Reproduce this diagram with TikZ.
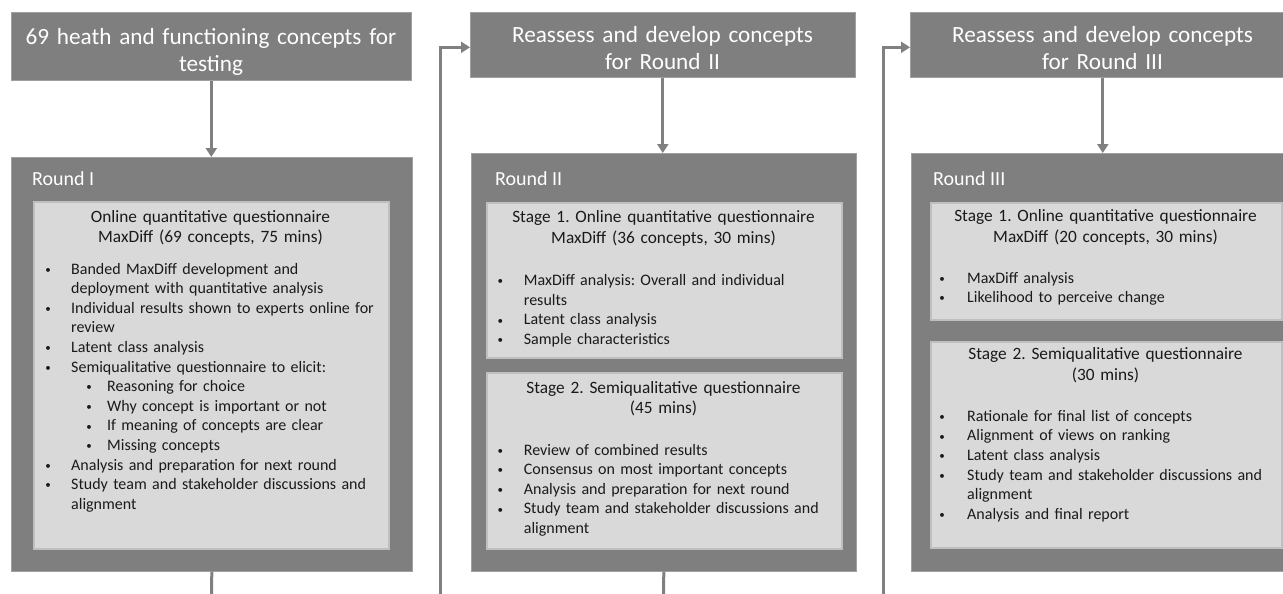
\documentclass[tikz,border=0pt]{standalone}
\usepackage{fontspec}
\setmainfont{Carlito}
\usetikzlibrary{arrows.meta}
\definecolor{boxgray}{HTML}{7F7F7F}
\definecolor{boxedge}{HTML}{A0A0A0}
\definecolor{innergray}{HTML}{D9D9D9}
\definecolor{innerborder}{HTML}{BFBFBF}
\definecolor{linegray}{HTML}{808080}
\definecolor{txt}{HTML}{1A1A1A}
\newcommand\bul[1][23.5pt]{\leavevmode\llap{\makebox[0pt][c]{\raisebox{0.8pt}{\fontsize{11}{11}\selectfont •}}\hspace{#1}}}
\begin{document}
\frenchspacing
\begin{tikzpicture}[x=1pt,y=-1pt,
  header/.style={fill=boxgray, draw=boxedge, line width=0.6pt, inner sep=0pt, anchor=north west},
  headtxt/.style={anchor=base, align=center, text width=380pt, text=white,
    font=\fontsize{23.2}{26.5}\selectfont, inner sep=0pt},
  outerbox/.style={fill=boxgray, draw=boxedge, line width=0.6pt, anchor=north west, inner sep=0pt},
  innerbox/.style={fill=innergray, draw=innerborder, line width=1.5pt, anchor=north west, inner sep=0pt},
  roundlbl/.style={anchor=base west, text=white, font=\fontsize{20}{24}\selectfont, inner sep=0pt},
  ttl/.style={anchor=base, align=center, text width=350pt, font=\fontsize{17.3}{20.8}\selectfont, text=txt, inner sep=0pt},
  lst/.style={anchor=base west, align=left, text width=345pt, font=\fontsize{16}{19.6}\selectfont, text=txt, inner sep=0pt},
  conn/.style={draw=linegray, line width=3pt},
  arr/.style={conn, -{Triangle[length=9pt,width=11pt]}}
]
\useasboundingbox (0,0) rectangle (1283,594);
\clip (0,0) rectangle (1283,594);

% headers
\node[header, minimum width=400pt, minimum height=68pt] (h1) at (11,12) {};
\node[header, minimum width=385pt, minimum height=65pt] (h2) at (470,12) {};
\node[header, minimum width=385pt, minimum height=65pt] (h3) at (910,12) {};
\node[headtxt] (h1t) at (211,45) {69 heath and functioning concepts for\\testing};
\node[headtxt] (h2t) at (662.5,43) {Reassess and develop concepts\\for Round II};
\node[headtxt] (h3t) at (1102.5,43) {Reassess and develop concepts\\for Round III};

% round boxes
\node[outerbox, minimum width=401pt, minimum height=414pt] (r1) at (11,157) {};
\node[outerbox, minimum width=385pt, minimum height=418pt] (r2) at (471,153) {};
\node[outerbox, minimum width=385pt, minimum height=418pt] (r3) at (911,153) {};

\node[roundlbl] (r1lab) at (32,185.3) {Round I};
\node[roundlbl] (r2lab) at (495,185.3) {Round II};
\node[roundlbl] (r3lab) at (933,185.3) {Round III};

% inner boxes
\node[innerbox, minimum width=355pt, minimum height=347pt] (r1in) at (33,201) {};
\node[innerbox, minimum width=355pt, minimum height=155pt] (r2s1) at (486,202) {};
\node[innerbox, minimum width=355pt, minimum height=176pt] (r2s2) at (486,372) {};
\node[innerbox, minimum width=351pt, minimum height=117pt] (r3s1) at (930,202) {};
\node[innerbox, minimum width=351pt, minimum height=206pt] (r3s2) at (930,341) {};

% titles
\node[ttl] (r1t) at (210.5,222) {Online quantitative questionnaire\\MaxDiff (69 concepts, 75 mins)};
\node[ttl] (r2t1) at (663.5,222.3) {Stage 1. Online quantitative questionnaire\\MaxDiff (36 concepts, 30 mins)};
\node[ttl] (r2t2) at (663.5,393) {Stage 2. Semiqualitative questionnaire\\(45 mins)};
\node[ttl] (r3t1) at (1105.5,221.7) {Stage 1. Online quantitative questionnaire\\MaxDiff (20 concepts, 30 mins)};
\node[ttl] (r3t2) at (1105.5,359.7) {Stage 2. Semiqualitative questionnaire\\(30 mins)};

% lists
\node[lst] (r1list) at (71,274) {\bul[23pt]Banded MaxDiff development and\\
deployment with quantitative analysis\\
\bul[23pt]Individual results shown to experts online for\\
review\\
\bul[23pt]Latent class analysis\\
\bul[23pt]Semiqualitative questionnaire to elicit:\\
\hspace*{36pt}\bul[18pt]Reasoning for choice\\
\hspace*{36pt}\bul[18pt]Why concept is important or not\\
\hspace*{36pt}\bul[18pt]If meaning of concepts are clear\\
\hspace*{36pt}\bul[18pt]Missing concepts\\
\bul[23pt]Analysis and preparation for next round\\
\bul[23pt]Study team and stakeholder discussions and\\
alignment};

\node[lst] (r2list1) at (523.7,285.7) {\bul MaxDiff analysis: Overall and individual\\
results\\
\bul Latent class analysis\\
\bul Sample characteristics};

\node[lst] (r2list2) at (523.7,455) {\bul Review of combined results\\
\bul Consensus on most important concepts\\
\bul Analysis and preparation for next round\\
\bul Study team and stakeholder discussions and\\
alignment};

\node[lst] (r3list1) at (967,283) {\bul[25pt]MaxDiff analysis\\
\bul[25pt]Likelihood to perceive change};

\node[lst] (r3list2) at (967,421.3) {\bul[25pt]Rationale for final list of concepts\\
\bul[25pt]Alignment of views on ranking\\
\bul[25pt]Latent class analysis\\
\bul[25pt]Study team and stakeholder discussions and\\
alignment\\
\bul[25pt]Analysis and final report};

% connectors
\draw[arr] (h1.south) -- (h1.south |- r1.north);
\draw[arr] (h2.south) -- (h2.south |- r2.north);
\draw[arr] (h3.south) -- (h3.south |- r3.north);
\coordinate (e1) at (211.5,600);
\coordinate (e2) at (663.5,600);
\draw[conn] (r1.south) -- (e1);
\draw[conn] (r2.south) -- (e2);
\coordinate (f1) at (440,600);
\coordinate (f2) at (883,600);
\draw[arr] (f1) |- ([yshift=-2.5pt]h2.west);
\draw[arr] (f2) |- ([yshift=-2.5pt]h3.west);
\end{tikzpicture}
\end{document}
